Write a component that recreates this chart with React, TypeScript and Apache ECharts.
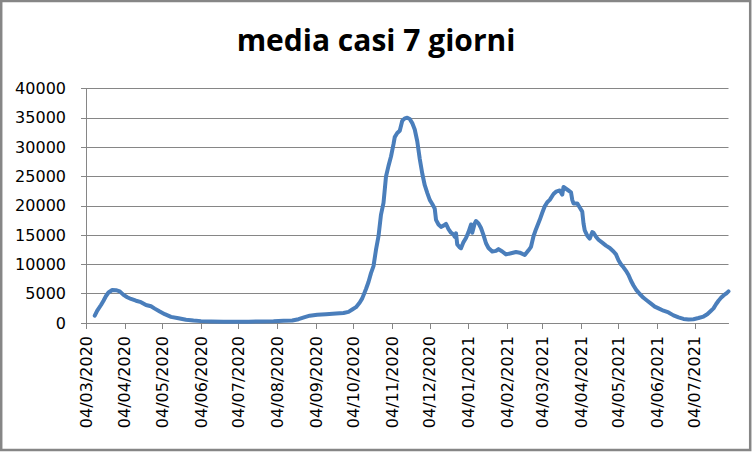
import React, { useEffect, useRef } from "react";
import * as echarts from "echarts";

// Chart title
const TITLE = "media casi 7 giorni";

// First and last day of the daily date axis
const START_DATE = "2020-03-04";
const END_DATE = "2021-07-31";

const sampleDay = [
  7, 9, 12, 14, 16, 18, 21, 24, 27, 30, 33, 36, 40, 44, 48, 52, 55, 59, 63, 68,
  74, 80, 86, 92, 100, 110, 120, 130, 140, 150, 158, 165, 170, 175, 179, 185, 192, 200, 206, 210,
  213, 216, 219, 221, 224, 226, 228, 230, 232, 234, 236, 238, 240, 242, 244, 246, 247, 249, 251, 253,
  255, 257, 259, 261, 263, 265, 267, 269, 271, 273, 275, 277, 279, 280, 282, 284, 286, 288, 290, 292,
  294, 295, 296, 297, 299, 300, 302, 304, 306, 308, 309, 311, 312, 314, 316, 318, 320, 322, 325, 328,
  330, 333, 336, 340, 344, 347, 351, 354, 356, 358, 360, 363, 365, 367, 369, 371, 374, 376, 379, 381,
  382, 384, 386, 388, 389, 390, 393, 395, 397, 398, 399, 401, 403, 405, 406, 408, 410, 413, 416, 419,
  422, 424, 426, 428, 430, 432, 434, 436, 438, 440, 443, 446, 449, 452, 455, 458, 462, 466, 470, 474,
  478, 482, 486, 490, 494, 497, 500, 502, 504, 506, 508, 510, 512, 514,
];

// ... and the 7-day average of cases on that day
const sampleValue = [
  1250, 2100, 3070, 3800, 4600, 5200, 5630, 5600, 5400, 4800, 4400, 4100, 3800, 3550, 3070, 2850, 2450, 1950, 1500, 1050,
  800, 550, 420, 320, 260, 230, 200, 220, 260, 300, 380, 420, 650, 1000, 1250, 1400, 1480, 1600, 1700, 1900,
  2300, 2700, 3500, 4200, 5800, 7000, 8500, 9700, 12500, 14800, 18500, 20500, 25000, 26800, 28400, 30500, 31700, 32400, 32800, 34500,
  34900, 35000, 34800, 34100, 33000, 31000, 28000, 25500, 23500, 22200, 21000, 20300, 19500, 17600, 16800, 16400, 16600, 16900, 16000, 15400,
  15100, 14700, 15300, 13400, 12900, 12750, 13800, 14500, 15500, 16800, 15400, 17000, 17400, 17000, 16200, 15000, 13600, 12800, 12200, 12300,
  12600, 12200, 11700, 11900, 12100, 12000, 11600, 12400, 13000, 14800, 16000, 17600, 18800, 19900, 20600, 21000, 22000, 22400, 22600, 21900,
  23200, 22900, 22600, 22300, 21000, 20400, 20400, 19700, 19000, 17000, 15800, 14900, 14400, 15500, 15400, 14700, 14200, 13700, 13200, 12800,
  12200, 11700, 10700, 10000, 9500, 8900, 8200, 7200, 6400, 5700, 4950, 4300, 3800, 3300, 2800, 2500, 2100, 1800, 1300, 950,
  700, 600, 650, 850, 1100, 1500, 2100, 2500, 3200, 3800, 4300, 4700, 5000, 5400,
];

// Y axis ticks
const Y_MIN = 0;
const Y_MAX = 40000;
const Y_STEP = 5000;

function pad(n: number) {
  return n < 10 ? "0" + n : String(n);
}

function buildCategories(): string[] {
  const out: string[] = [];
  const [sy, sm, sd] = START_DATE.split("-").map(Number);
  const [ey, em, ed] = END_DATE.split("-").map(Number);
  const t0 = Date.UTC(sy, sm - 1, sd);
  const t1 = Date.UTC(ey, em - 1, ed);
  for (let t = t0; t <= t1; t += 86400000) {
    const d = new Date(t);
    out.push(pad(d.getUTCDate()) + "/" + pad(d.getUTCMonth() + 1) + "/" + d.getUTCFullYear());
  }
  return out;
}

export default function App() {
  const ref = useRef<HTMLDivElement>(null);

  useEffect(() => {
    document.body.style.margin = "0";
    if (!ref.current) return;
    const chart = echarts.init(ref.current, undefined, { renderer: "svg" });
    const categories = buildCategories();
    const series: (number | null)[] = categories.map(() => null);
    sampleDay.forEach((d, i) => {
      series[d] = sampleValue[i];
    });
    const isMonthTick = (_idx: number, val: string) => val.startsWith("04/");
    const grey = "#868686";
    const font = "'DejaVu Sans', Verdana, sans-serif";

    chart.setOption({
      animation: false,
      backgroundColor: "#ffffff",
      title: {
        text: TITLE,
        left: "center",
        top: 19,
        textStyle: {
          fontFamily: "'Open Sans', sans-serif",
          fontWeight: "bold",
          fontSize: 30,
          color: "#000000",
        },
      },
      graphic: [
        {
          type: "rect",
          shape: { x: 1.2, y: 1, width: 749, height: 449 },
          style: { fill: "none", stroke: grey, lineWidth: 2.5 },
          silent: true,
        },
      ],
      grid: { left: 86, right: 23.5, top: 88.5, bottom: 129, containLabel: false },
      xAxis: {
        type: "category",
        data: categories,
        boundaryGap: false,
        axisLine: { show: true, lineStyle: { color: grey, width: 1 } },
        axisTick: { show: true, interval: isMonthTick, length: 6, lineStyle: { color: grey } },
        axisLabel: {
          interval: isMonthTick,
          rotate: 90,
          margin: 13,
          color: "#000000",
          fontFamily: font,
          fontSize: 16,
          padding: [10, 0, 0, 0],
        },
        splitLine: { show: false },
      },
      yAxis: {
        type: "value",
        min: Y_MIN,
        max: Y_MAX,
        interval: Y_STEP,
        axisLine: { show: true, lineStyle: { color: grey, width: 1 } },
        axisTick: { show: true, length: 5, lineStyle: { color: grey } },
        axisLabel: {
          margin: 20,
          color: "#000000",
          fontFamily: font,
          fontSize: 16,
          formatter: (v: number) => String(v),
        },
        splitLine: { show: true, lineStyle: { color: grey, width: 1 } },
      },
      series: [
        {
          type: "line",
          data: series,
          connectNulls: true,
          showSymbol: false,
          symbol: "none",
          lineStyle: { color: "#4A7EBB", width: 4, join: "round", cap: "round" },
          itemStyle: { color: "#4A7EBB" },
        },
      ],
    });
    return () => chart.dispose();
  }, []);

  return <div ref={ref} style={{ width: 752, height: 452 }} />;
}
